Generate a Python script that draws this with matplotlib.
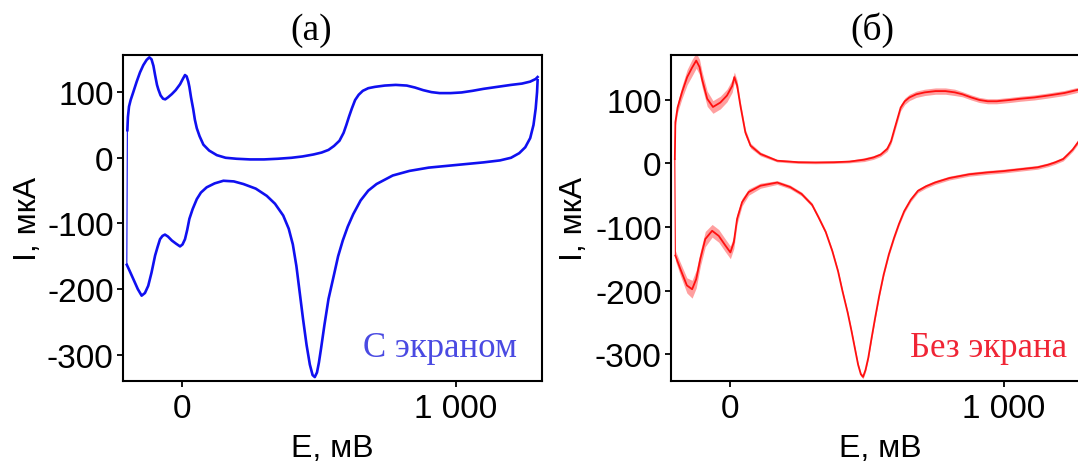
import numpy as np
import matplotlib
matplotlib.use("Agg")
import matplotlib.pyplot as plt

# Циклические вольтамперограммы: (а) с экраном, (б) без экрана
# прямой ход (анодная ветвь), E в мВ, I в мкА
e_fwd_a = [-198, -196, -192, -186, -178, -164, -152, -140, -128, -118, -110, -103, -97,
           -90, -85, -77, -68, -60, -50, -36, -22, -6, 4, 12, 18, 24, 28, 34, 42, 48,
           55, 65, 79, 100, 128, 160, 200, 249, 300, 350, 400, 440, 480, 510, 535, 555,
           575, 590, 600, 610, 620, 632, 645, 660, 680, 704, 740, 780, 820, 850, 880,
           910, 940, 980, 1020, 1060, 1100, 1150, 1200, 1240, 1270, 1290, 1297]
i_fwd_a = [42, 62, 78, 88, 98, 116, 130, 141, 149, 153, 150, 140, 126,
           111, 104, 95, 90, 89, 92, 97, 103, 112, 120, 126, 124, 116, 108, 92, 74, 58,
           45, 33, 20, 11, 4, 0, -1.5, -2.5, -2.5, -1.5, 0, 2, 5, 8, 12, 18,
           26, 38, 50, 63, 75, 88, 96, 102, 106, 108, 110, 111, 110, 107, 103,
           100, 98.5, 98.5, 99.5, 102, 105, 108, 111, 113, 116, 120, 123]
# обратный ход (катодная ветвь)
e_rev_a = [1297, 1295, 1290, 1282, 1270, 1252, 1230, 1200, 1160, 1100, 1000, 900, 830,
           769, 710, 680, 652, 625, 605, 587, 570, 554, 535, 520, 508, 500, 493, 485,
           477, 467, 455, 442, 430, 418, 405, 390, 370, 340, 310, 270, 225, 190, 152,
           120, 91, 70, 55, 40, 28, 20, 12, 3, -6, -20, -36, -50, -61, -70, -79, -88,
           -97, -110, -122, -134, -146, -160, -176, -190, -200]
i_rev_a = [118, 100, 75, 50, 30, 16, 7, 0, -4, -7, -11, -15, -20,
           -27, -40, -50, -65, -86, -105, -126, -150, -180, -215, -255, -290, -312, -327, -334,
           -331, -315, -285, -245, -205, -165, -132, -108, -88, -70, -58, -47, -40, -36, -35,
           -39, -45, -53, -63, -78, -93, -110, -124, -132, -135, -131, -126, -120, -117, -119, -124, -136,
           -149, -175, -195, -206, -210, -200, -185, -172, -163]

e_fwd_b = [-200, -198, -190, -174, -155, -137, -122, -110, -101, -82, -61, -34, -10, 9,
           17, 27, 39, 57, 76, 112, 173, 250, 312, 380, 436, 490, 524, 550, 574, 588,
           599, 611, 623, 638, 655, 680, 711, 750, 786, 820, 848, 880, 910, 940, 973,
           1020, 1060, 1110, 1160, 1220, 1269, 1300]
i_fwd_b = [7, 65, 88, 112, 136, 151, 162, 152, 133, 102, 89, 96, 107, 122,
           136, 123, 91, 49, 28, 15, 4.4, 2, 1.6, 2, 3, 6, 9.5, 14, 23, 35,
           52, 70, 88, 98, 104, 109, 112, 114, 114, 112, 109, 104, 100, 98, 98,
           100, 102, 104, 107, 111, 116, 118]
# разброс точек вокруг кривой (полуширина полосы шума)
s_fwd_b = [3, 6, 8, 10, 12, 13, 12, 12, 12, 12, 10, 10, 10, 10,
           8, 8, 6, 5, 4, 3, 2, 2, 2, 2, 2, 3, 3, 3, 4, 4,
           5, 5, 5, 5, 5, 5, 5, 5, 5, 5, 4, 4, 4, 4, 4,
           4, 4, 4, 4, 4, 4, 4]
e_rev_b = [1300, 1290, 1272, 1250, 1234, 1215, 1185, 1160, 1122, 1060, 997, 940, 873,
           800, 748, 715, 686, 660, 636, 617, 599, 580, 561, 545, 530, 517, 505, 495,
           486, 478, 468, 458, 444, 430, 411, 395, 374, 350, 324, 300, 262, 220, 173,
           112, 69, 45, 27, 15, 2.5, -16, -40, -64, -89, -107, -122, -137, -156, -180, -198]
i_rev_b = [110, 70, 35, 22, 15, 7, 1.6, -2, -6, -9, -12, -14, -17,
           -23, -30, -36, -43, -57, -75, -95, -117, -143, -175, -208, -243, -275, -306, -325,
           -336, -332, -317, -295, -264, -235, -201, -170, -138, -108, -85, -65, -48, -37, -30,
           -35, -45, -61, -87, -124, -140, -129, -114, -106, -119, -150, -182, -198, -192, -166, -145]
s_rev_b = [3, 3, 3, 3, 3, 3, 3, 3, 3, 3, 3, 3, 3,
           3, 3, 3, 3, 3, 3, 3, 3, 3, 3, 3, 3, 3, 3, 3,
           3, 3, 3, 3, 3, 3, 3, 3, 3, 3, 3, 3, 3, 3, 3,
           4, 5, 6, 8, 10, 10, 10, 10, 10, 12, 12, 14, 14, 12, 10, 8]

xticks = [0, 1000]
xticklabels = ["0", "1 000"]
yticks = [-300, -200, -100, 0, 100]

plt.rcParams['font.family'] = ['Liberation Sans', 'DejaVu Sans']
plt.rcParams['axes.unicode_minus'] = False

W, H = 1078, 464
fig = plt.figure(figsize=(W / 100, H / 100), dpi=100)

ax_w = 419.3 / W
ax_h = 326.3 / H
ax_b = (H - 382) / H
ax1 = fig.add_axes([122.7 / W, ax_b, ax_w, ax_h])
ax2 = fig.add_axes([670.7 / W, ax_b, ax_w, ax_h])


def style(ax, ylim, ylab_x):
    ax.set_xlim(-215, 1313)
    ax.set_ylim(*ylim)
    ax.set_xticks(xticks)
    ax.set_xticklabels(xticklabels)
    ax.set_yticks(yticks)
    ax.tick_params(labelsize=24, length=4.5, width=1.3, pad=2, direction='out')
    ax.tick_params(axis='x', pad=4)
    for sp in ax.spines.values():
        sp.set_linewidth(1.5)
    ax.set_xlabel("E, мВ", fontsize=23)
    ax.set_ylabel("I, мкА", fontsize=23)
    ax.yaxis.set_label_coords(ylab_x, 0.5)
    ax.xaxis.set_label_coords(0.5, -0.16)


# (а) с экраном
blue = '#1010f0'
ax1.plot(e_fwd_a, i_fwd_a, color=blue, lw=1.9)
ax1.plot(e_rev_a, i_rev_a, color=blue, lw=1.9)
ax1.plot([e_rev_a[-1], e_fwd_a[0]], [i_rev_a[-1], i_fwd_a[0]], color=blue, lw=0.8)
style(ax1, (-340, 157), -0.19)
ax1.text(0.94, 0.104, "С экраном", transform=ax1.transAxes, ha='right', va='center',
         fontsize=25, family='Liberation Serif', color='#4a4ae2')

# (б) без экрана
red = '#ff1010'
for e, i, s in [(e_fwd_b, i_fwd_b, s_fwd_b), (e_rev_b, i_rev_b, s_rev_b)]:
    e = np.array(e, float)
    i = np.array(i, float)
    s = np.array(s, float)
    ax2.fill_between(e, i - s, i + s, color=red, alpha=0.4, lw=0)
    ax2.plot(e, i, color=red, lw=1.3)
ax2.plot([e_rev_b[-1], e_fwd_b[0]], [i_rev_b[-1], i_fwd_b[0]], color=red, lw=0.8)
style(ax2, (-342.5, 171.3), -0.195)
ax2.text(0.945, 0.104, "Без экрана", transform=ax2.transAxes, ha='right', va='center',
         fontsize=25, family='Liberation Serif', color='#f02535')

fig.text(311 / W, 1 - 31 / H, "(а)", ha='center', va='center', fontsize=27,
         family='Liberation Serif')
fig.text(872 / W, 1 - 30 / H, "(б)", ha='center', va='center', fontsize=27,
         family='Liberation Serif')

fig.savefig("out.png", dpi=100)
